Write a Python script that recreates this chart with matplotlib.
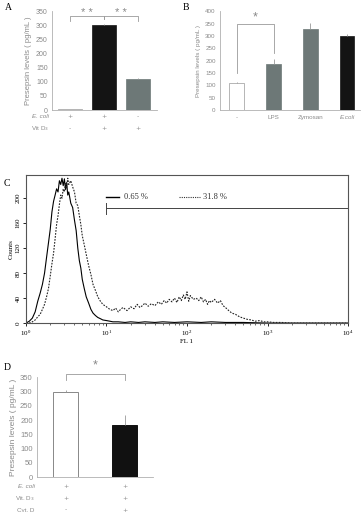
import matplotlib
matplotlib.use("Agg")
import matplotlib.pyplot as plt
from matplotlib.ticker import LogLocator, NullFormatter
import matplotlib.transforms as mtransforms

# --- data ---------------------------------------------------------------
# A
a_vals = [3, 300, 110]
a_err = [2, 5, 5]
a_ecoli = ["+", "+", "-"]
a_vitd = ["-", "+", "+"]
# B
b_labels = ["-", "LPS", "Zymosan", "E.coli"]
b_vals = [110, 185, 330, 300]
b_err = [4, 22, 22, 8]
# D
d_vals = [300, 183]
d_err = [4, 35]
d_ecoli = ["+", "+"]
d_vitd = ["+", "+"]
d_cytd = ["-", "+"]
# C  (FL1 channel, counts)
c_x_solid = [1.0, 1.1, 1.2, 1.3, 1.4, 1.5, 1.6, 1.7, 1.8, 1.9, 2.0, 2.1, 2.2, 2.3, 2.4,
             2.5, 2.6, 2.7, 2.8, 2.9, 3.0, 3.1, 3.2, 3.3, 3.4, 3.6, 3.8, 4.0, 4.2, 4.4,
             4.6, 4.8, 5.0, 5.3, 5.6, 6.0, 6.4, 6.8, 7.3, 7.8, 8.4, 9, 10, 11, 12, 14,
             17, 20, 25, 30, 40, 50, 70, 100, 150, 200, 300, 500, 1000, 10000]
c_y_solid = [0, 3, 8, 18, 35, 48, 62, 80, 105, 128, 150, 178, 195, 205, 215,
             210, 228, 222, 232, 220, 231, 214, 225, 205, 210, 192, 185, 165, 148, 120,
             100, 88, 70, 55, 42, 32, 22, 16, 12, 9, 7, 5, 4, 3, 2, 2,
             1, 2, 1, 2, 1, 2, 1, 2, 1, 2, 1, 1, 0, 0]
c_x_dash = [1.0, 1.1, 1.2, 1.3, 1.4, 1.5, 1.6, 1.7, 1.8, 1.9, 2.0, 2.1, 2.2, 2.3, 2.4,
            2.5, 2.6, 2.7, 2.8, 2.9, 3.0, 3.1, 3.2, 3.3, 3.4, 3.6, 3.8, 4.0, 4.2, 4.4,
            4.6, 4.8, 5.0, 5.3, 5.6, 6.0, 6.4, 6.8, 7.3, 7.8, 8.4, 9, 10, 11, 12, 13,
            14, 15, 16, 18, 20, 22, 24, 26, 28, 30, 33, 36, 40, 44, 48, 52, 56, 60,
            65, 70, 75, 80, 85, 90, 95, 100, 105, 110, 120, 130, 140, 150, 160, 170,
            180, 190, 200, 220, 240, 260, 280, 300, 330, 360, 400, 450, 500, 560, 630,
            700, 800, 900, 1000, 1200, 1500, 2000, 3000, 10000]
c_y_dash = [0, 0, 2, 5, 10, 14, 22, 30, 42, 55, 75, 95, 112, 135, 158,
            172, 190, 205, 200, 215, 210, 225, 218, 232, 222, 228, 218, 210, 192, 188,
            172, 158, 140, 125, 110, 92, 78, 62, 52, 42, 35, 30, 26, 22, 20, 24,
            18, 22, 25, 20, 26, 23, 30, 25, 28, 32, 27, 31, 28, 34, 30, 36, 32, 38,
            34, 40, 33, 42, 36, 45, 38, 50, 35, 44, 38, 40, 36, 42, 34, 38,
            30, 36, 33, 38, 32, 36, 28, 25, 20, 16, 14, 10, 8, 6, 5,
            3, 4, 2, 2, 1, 1, 0, 0, 0]

gray_txt = "#8a8a8a"
bar_gray = "#6d7877"
sans = ["Liberation Sans", "DejaVu Sans"]
serif = ["Liberation Serif", "DejaVu Serif"]

fig = plt.figure(figsize=(3.61, 5.12), dpi=100)


def style_bar_axes(ax):
    for s in ["top", "right"]:
        ax.spines[s].set_visible(False)
    for s in ["left", "bottom"]:
        ax.spines[s].set_color("#b0b0b0")
        ax.spines[s].set_linewidth(0.6)
    ax.tick_params(axis="y", length=0, labelsize=5, labelcolor=gray_txt, pad=3)
    ax.tick_params(axis="x", length=0)
    for lab in ax.get_yticklabels():
        lab.set_family(sans)


def bracket(ax, x0, x1, y, d0, d1, label, ty, fs=8):
    ax.plot([x0, x0, x1, x1], [y - d0, y, y, y - d1], color="#9a9a9a", lw=0.6, clip_on=False)
    ax.text((x0 + x1) / 2, ty, label, ha="center", va="center", fontsize=fs,
            color="#888888", family=sans)


# ---- A ----
axA = fig.add_axes([0.144, 0.785, 0.291, 0.193])
xs = [0, 1, 2]
axA.bar(xs, a_vals, width=0.68, color=["#f2f2f2", "#141414", bar_gray],
        edgecolor=["#999999", "#141414", bar_gray], linewidth=0.5,
        yerr=[[0, 0, 0], a_err], error_kw=dict(ecolor="#999999", elinewidth=0.6, capsize=0))
axA.set_xlim(-0.53, 2.56)
axA.set_ylim(0, 350)
axA.set_yticks(range(0, 351, 50))
axA.set_xticks([])
style_bar_axes(axA)
axA.set_ylabel("Presepsin levels ( pg/mL )", fontsize=5.5, color=gray_txt, family=sans, labelpad=3)
bracket(axA, 0, 1, 333, 17, 10, "* *", 344)
bracket(axA, 1, 2, 333, 10, 17, "* *", 344)
trA = mtransforms.blended_transform_factory(axA.transData, axA.transAxes)
for i in xs:
    axA.text(i, -0.07, a_ecoli[i], transform=trA, ha="center", va="center", fontsize=4.5, color=gray_txt)
    axA.text(i, -0.19, a_vitd[i], transform=trA, ha="center", va="center", fontsize=4.5, color=gray_txt)
axA.text(-0.03, -0.07, "E. coli", transform=axA.transAxes, ha="right", va="center",
         fontsize=4.5, style="italic", color=gray_txt, family=sans)
axA.text(-0.03, -0.19, "Vit D$_3$", transform=axA.transAxes, ha="right", va="center",
         fontsize=4.5, color=gray_txt, family=sans)

# ---- B ----
axB = fig.add_axes([0.609, 0.785, 0.388, 0.193])
xb = range(len(b_vals))
axB.bar(xb, b_vals, width=0.4, color=["white", bar_gray, bar_gray, "#141414"],
        edgecolor=["#999999", bar_gray, bar_gray, "#141414"], linewidth=0.5,
        yerr=[[0] * 4, b_err], error_kw=dict(ecolor="#999999", elinewidth=0.6, capsize=0))
axB.set_xlim(-0.46, 3.35)
axB.set_ylim(0, 400)
axB.set_yticks(range(0, 401, 50))
axB.set_xticks(list(xb))
axB.set_xticklabels(b_labels)
style_bar_axes(axB)
axB.tick_params(axis="y", labelsize=4.5)
for i, lab in enumerate(axB.get_xticklabels()):
    lab.set_fontsize(4.5)
    lab.set_color(gray_txt)
    lab.set_family(sans)
    if i == 3:
        lab.set_style("italic")
axB.set_ylabel("Presepsin levels ( pg/mL )", fontsize=4.5, color=gray_txt, family=sans, labelpad=3)
bracket(axB, 0, 1, 347, 197, 117, "*", 374, fs=9)

# ---- C ----
axC = fig.add_axes([0.072, 0.369, 0.892, 0.289])
axC.plot(c_x_solid, c_y_solid, color="black", lw=0.8)
axC.plot(c_x_dash, c_y_dash, color="#222222", lw=0.8, linestyle=(0, (1.5, 1.2)))
axC.set_xscale("log")
axC.set_xlim(1, 1e4)
axC.set_ylim(0, 237)
axC.set_yticks(range(0, 201, 40))
axC.xaxis.set_major_locator(LogLocator(base=10, numticks=10))
axC.xaxis.set_minor_locator(LogLocator(base=10, subs=range(2, 10), numticks=50))
axC.xaxis.set_minor_formatter(NullFormatter())
axC.tick_params(axis="both", which="major", labelsize=5, length=2.5, width=0.6, direction="out", pad=1.5)
axC.tick_params(axis="x", which="minor", length=1.5, width=0.4, direction="out")
for lab in axC.get_yticklabels():
    lab.set_rotation(90)
    lab.set_va("center")
    lab.set_family(serif)
for lab in axC.get_xticklabels():
    lab.set_family(serif)
for s in axC.spines.values():
    s.set_linewidth(0.8)
    s.set_color("#555555")
axC.set_xlabel("FL 1", fontsize=5, family=serif, labelpad=1)
axC.set_ylabel("Counts", fontsize=5, family=serif, labelpad=1)
# gate marker
axC.plot([10, 1e4], [184, 184], color="#444444", lw=0.7)
axC.plot([10, 10], [175, 193], color="#444444", lw=0.7)
# legend-like labels
axC.plot([9.8, 14.5], [202, 202], color="black", lw=1.0)
axC.text(16.5, 202, "0.65 %", fontsize=6, family=serif, va="center", color="#333333")
axC.plot([80, 145], [202, 202], color="#333333", lw=0.8, linestyle=(0, (1, 1)))
axC.text(160, 202, "31.8 %", fontsize=6, family=serif, va="center", color="#333333")

# ---- D ----
axD = fig.add_axes([0.102, 0.068, 0.321, 0.195])
xd = [0, 1]
axD.bar(xd, d_vals, width=0.42, color=["white", "#111111"],
        edgecolor=["#888888", "#111111"], linewidth=0.7,
        yerr=[[0, 0], d_err], error_kw=dict(ecolor="#999999", elinewidth=0.6, capsize=0))
axD.set_xlim(-0.49, 1.47)
axD.set_ylim(0, 350)
axD.set_yticks(range(0, 351, 50))
axD.set_xticks([])
style_bar_axes(axD)
axD.tick_params(axis="y", labelsize=5.5)
axD.set_ylabel("Presepsin levels ( pg/mL )", fontsize=6, color=gray_txt, family=sans, labelpad=2)
bracket(axD, 0, 1, 362, 20, 20, "*", 390, fs=9)
trD = mtransforms.blended_transform_factory(axD.transData, axD.transAxes)
rows = [("E. coli", d_ecoli, -0.09, "italic"), ("Vit. D$_3$", d_vitd, -0.21, "normal"),
        ("Cyt. D", d_cytd, -0.33, "normal")]
for name, vals, yy, st in rows:
    for i in xd:
        axD.text(i, yy, vals[i], transform=trD, ha="center", va="center", fontsize=4.5, color=gray_txt)
    axD.text(-0.02, yy, name, transform=axD.transAxes, ha="right", va="center",
             fontsize=4.5, style=st, color=gray_txt, family=sans)

# panel letters
for lab, x, y in [("A", 5, 8), ("B", 183, 8), ("C", 4, 184), ("D", 4, 367)]:
    fig.text(x / 361, 1 - y / 512, lab, fontsize=7, family=serif, va="center", ha="left")

fig.savefig("out.png", dpi=100)
